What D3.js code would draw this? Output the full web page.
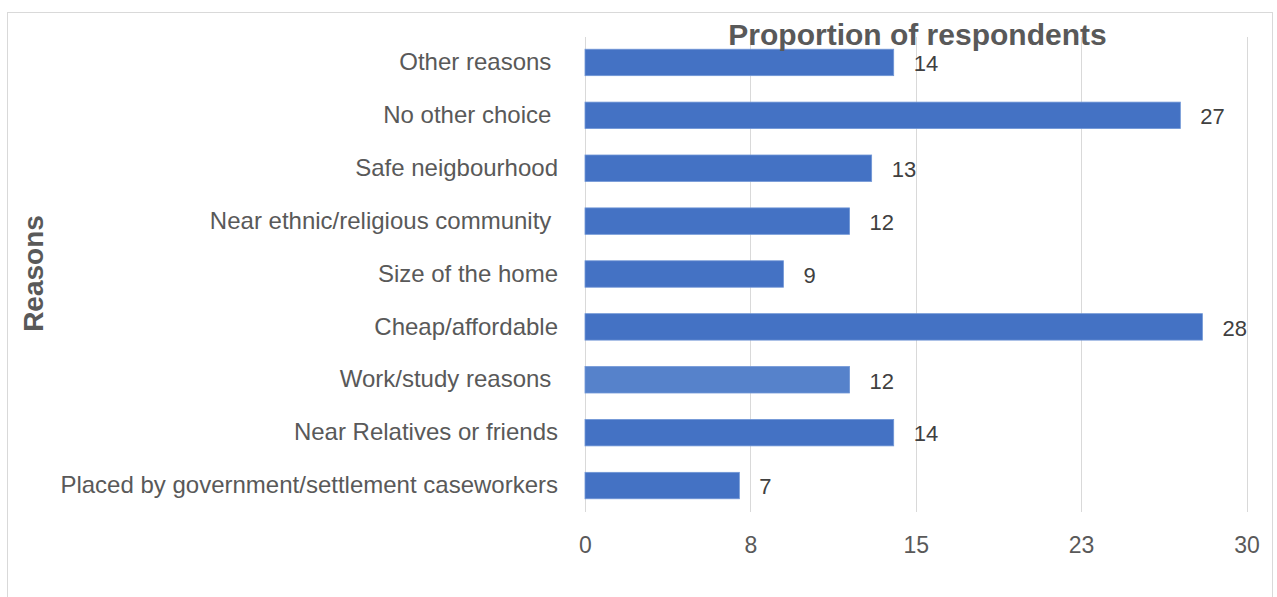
<!DOCTYPE html>
<html>
<head>
<meta charset="utf-8">
<script src="https://cdn.jsdelivr.net/npm/d3@7"></script>
<style>
  html, body { margin: 0; padding: 0; background: #ffffff; }
  svg { display: block; }
  svg text { white-space: pre; }
</style>
</head>
<body>
<svg id="chart" width="1277" height="597"></svg>
<script>
// Reasons for choosing current housing, top to bottom as listed
const reasons = [
  "Other reasons ",
  "No other choice ",
  "Safe neigbourhood",
  "Near ethnic/religious community ",
  "Size of the home",
  "Cheap/affordable",
  "Work/study reasons ",
  "Near Relatives or friends",
  "Placed by government/settlement caseworkers"
];
const proportions = [14, 27, 13, 12, 9, 28, 12, 14, 7];
const tickValues = [0, 7.5, 15, 22.5, 30];
const tickLabels = ["0", "8", "15", "23", "30"];
const chartTitle = "Proportion of respondents";
const axisTitle = "Reasons";

const svg = d3.select("#chart");
const font = "'Liberation Sans', Arial, sans-serif";

// outer chart frame
svg.append("rect")
  .attr("x", 7.5).attr("y", 12.5)
  .attr("width", 1265).attr("height", 600)
  .attr("fill", "none").attr("stroke", "#d9d9d9").attr("stroke-width", 1);

const x = d3.scaleLinear().domain([0, 30]).range([585, 1246.5]);
const y = d3.scaleBand().domain(reasons).range([36, 512]).paddingInner(0.5).paddingOuter(0.25);

// vertical gridlines
svg.append("g").selectAll("line")
  .data(tickValues)
  .join("line")
  .attr("x1", d => Math.round(x(d)) + 0.5).attr("x2", d => Math.round(x(d)) + 0.5)
  .attr("y1", 37).attr("y2", 512)
  .attr("stroke", "#d9d9d9").attr("stroke-width", 1);

// bars
svg.append("g").selectAll("rect")
  .data(reasons)
  .join("rect")
  .attr("x", x(0))
  .attr("y", d => y(d))
  .attr("width", (d, i) => x(proportions[i]) - x(0))
  .attr("height", y.bandwidth())
  .attr("fill", d => d.startsWith("Work/study") ? "#5682CB" : "#4472C4")
  .attr("stroke", "#7096d6").attr("stroke-width", 0.8);

// value labels
svg.append("g").selectAll("text")
  .data(reasons)
  .join("text")
  .attr("x", (d, i) => x(proportions[i]) + 20)
  .attr("y", d => y(d) + y.bandwidth() / 2)
  .attr("dy", "0.4em")
  .attr("font-family", font)
  .attr("font-size", 22)
  .attr("fill", "#404040")
  .text((d, i) => proportions[i]);

// category axis
const yAxis = svg.append("g")
  .attr("transform", `translate(${x(0) - 27},0)`)
  .call(d3.axisLeft(y).tickSize(0).tickPadding(0));
yAxis.select(".domain").remove();
yAxis.selectAll("text")
  .attr("font-family", font)
  .attr("font-size", 24)
  .attr("fill", "#595959");

// value axis
const xAxis = svg.append("g")
  .attr("transform", "translate(0,512)")
  .call(d3.axisBottom(x).tickValues(tickValues).tickFormat((d, i) => tickLabels[i]).tickSize(0).tickPadding(25));
xAxis.select(".domain").remove();
xAxis.selectAll("text")
  .attr("font-family", font)
  .attr("font-size", 23)
  .attr("fill", "#595959");

// chart title
svg.append("text")
  .attr("x", 917.5).attr("y", 45)
  .attr("text-anchor", "middle")
  .attr("font-family", font)
  .attr("font-weight", "bold")
  .attr("font-size", 30)
  .attr("fill", "#595959")
  .text(chartTitle);

// axis title
svg.append("text")
  .attr("transform", "translate(43,273.5) rotate(-90)")
  .attr("text-anchor", "middle")
  .attr("font-family", font)
  .attr("font-weight", "bold")
  .attr("font-size", 28)
  .attr("fill", "#595959")
  .text(axisTitle);
</script>
</body>
</html>
